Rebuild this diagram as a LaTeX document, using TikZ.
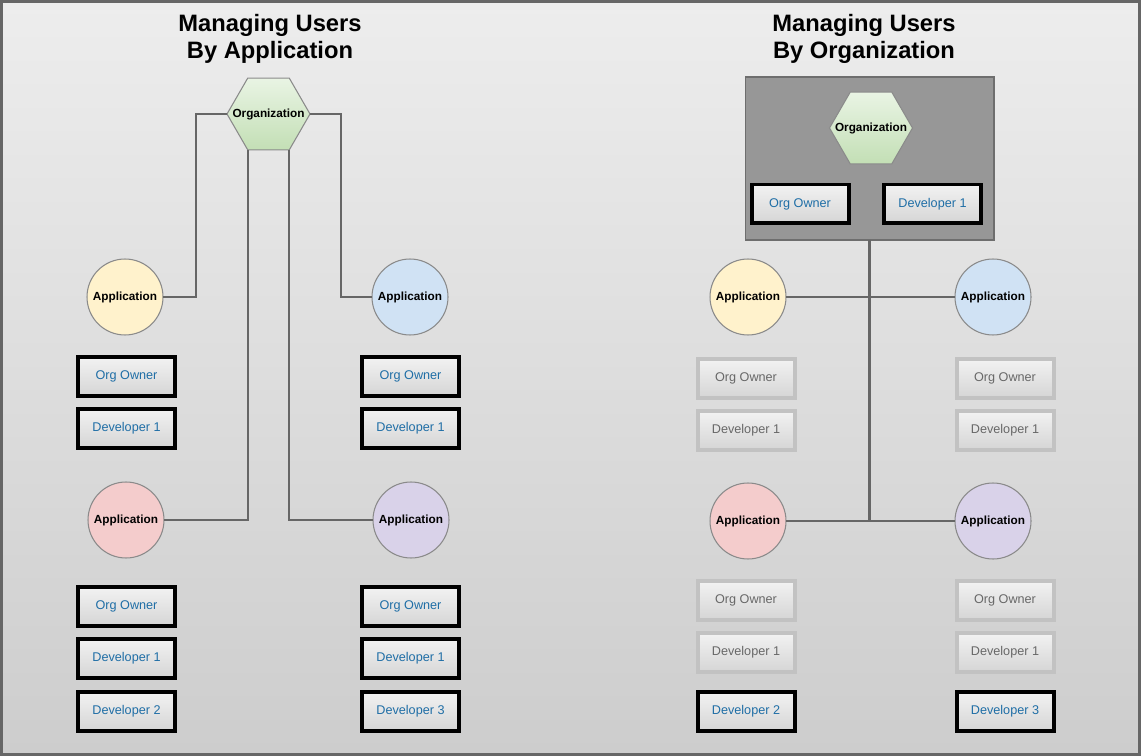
\documentclass[tikz,border=0pt]{standalone}
\usepackage{fontspec}
\setmainfont{Liberation Sans}
\usepackage{tikz}
\usetikzlibrary{calc,shapes.geometric}
\definecolor{bgtop}{HTML}{EDEDED}
\definecolor{bgbot}{HTML}{CDCDCD}
\definecolor{framegray}{HTML}{666666}
\definecolor{linegray}{HTML}{666666}
\definecolor{circgray}{HTML}{8A8A8A}
\definecolor{hexlight}{HTML}{E9F4E4}
\definecolor{hexdark}{HTML}{C3DFB5}
\definecolor{boxlight}{HTML}{F2F2F2}
\definecolor{boxdark}{HTML}{D5D5D5}
\definecolor{userblue}{HTML}{1F6EA6}
\definecolor{oldgray}{HTML}{C2C2C2}
\definecolor{oldtext}{HTML}{686868}
\definecolor{grpgray}{HTML}{979797}
\definecolor{grpborder}{HTML}{6E6E6E}
\definecolor{appyellow}{HTML}{FFF2CC}
\definecolor{appblue}{HTML}{D0E2F4}
\definecolor{appred}{HTML}{F4CCCC}
\definecolor{apppurple}{HTML}{D9D2E9}

\begin{document}
\begin{tikzpicture}[x=0.02cm,y=-0.02cm,every node/.style={outer sep=0pt,inner sep=0pt}]
\tikzstyle{title}=[align=center,font=\fontsize{13.5}{15.3}\selectfont\bfseries]
\tikzstyle{app}=[circle,draw=circgray,line width=0.6pt,minimum size=1.52cm,font=\fontsize{6.7}{8}\selectfont\bfseries]
\tikzstyle{org}=[regular polygon,regular polygon sides=6,draw=circgray,line width=0.6pt,top color=hexlight,bottom color=hexdark,minimum size=1.66cm,label={[font=\fontsize{6.7}{8}\selectfont\bfseries]center:Organization}]
\tikzstyle{user}=[rectangle,draw=black,line width=2.27pt,top color=boxlight,bottom color=boxdark,minimum width=1.94cm,minimum height=0.78cm,text=userblue,font=\fontsize{7.2}{9}\selectfont]
\tikzstyle{olduser}=[user,draw=oldgray,text=oldtext]
\tikzstyle{wire}=[draw=linegray,line width=1.2pt]

\useasboundingbox (0,0) rectangle (1141,756);
\draw [draw=framegray,line width=1.7pt,top color=bgtop,bottom color=bgbot] (1.5,1.5) rectangle (1139.5,754.5);

% by application
\node (T1) at (270,39) [title] {Managing Users\\By Application};
\node (Org1) at (268.5,114) [org] {};

\node (A1) at (125,297) [app,fill=appyellow] {Application};
\node (A2) at (410,297) [app,fill=appblue] {Application};
\node (A3) at (126,520) [app,fill=appred] {Application};
\node (A4) at (411,520) [app,fill=apppurple] {Application};

\node (A1own) at (126.5,376.5) [user] {Org Owner};
\node (A1dev) at (126.5,428.5) [user] {Developer 1};
\node (A2own) at (410.5,376.5) [user] {Org Owner};
\node (A2dev) at (410.5,428.5) [user] {Developer 1};
\node (A3own) at (126.5,606.5) [user] {Org Owner};
\node (A3dev) at (126.5,658.5) [user] {Developer 1};
\node (A3dev2) at (126.5,711.5) [user] {Developer 2};
\node (A4own) at (410.5,606.5) [user] {Org Owner};
\node (A4dev) at (410.5,658.5) [user] {Developer 1};
\node (A4dev3) at (410.5,711.5) [user] {Developer 3};

\draw [wire] (Org1.west) -- ++(-31,0) |- (A1.east);
\draw [wire] (Org1.east) -- ++(31,0) |- (A2.west);
\draw [wire] (Org1.corner 4) |- (A3.east);
\draw [wire] (Org1.corner 5) |- (A4.west);

% by organization
\node (T2) at (864,39) [title] {Managing Users\\By Organization};
\node (Grp) at (869.5,158.5) [draw=grpborder,fill=grpgray,line width=0.6pt,minimum width=4.98cm,minimum height=3.26cm] {};
\node (Org2) at (871,128) [org] {};
\node (Own) at (800,204) [user] {Org Owner};
\node (Dev) at (932.5,204) [user] {Developer 1};

\node (B1) at (748,297) [app,fill=appyellow] {Application};
\node (B2) at (993,297) [app,fill=appblue] {Application};
\node (B3) at (748,521) [app,fill=appred] {Application};
\node (B4) at (993,521) [app,fill=apppurple] {Application};

\node (B1own) at (746,378.5) [olduser] {Org Owner};
\node (B1dev) at (746,430.5) [olduser] {Developer 1};
\node (B2own) at (1005,378.5) [olduser] {Org Owner};
\node (B2dev) at (1005,430.5) [olduser] {Developer 1};
\node (B3own) at (746,600.5) [olduser] {Org Owner};
\node (B3dev) at (746,652.5) [olduser] {Developer 1};
\node (B3dev2) at (746,711.5) [user] {Developer 2};
\node (B4own) at (1005,600.5) [olduser] {Org Owner};
\node (B4dev) at (1005,652.5) [olduser] {Developer 1};
\node (B4dev3) at (1005,711.5) [user] {Developer 3};

\draw [wire] (Grp.south) -- (Grp.south |- B3.east);
\draw [wire] (B1) -- (B2);
\draw [wire] (B3) -- (B4);

\end{tikzpicture}
\end{document}
